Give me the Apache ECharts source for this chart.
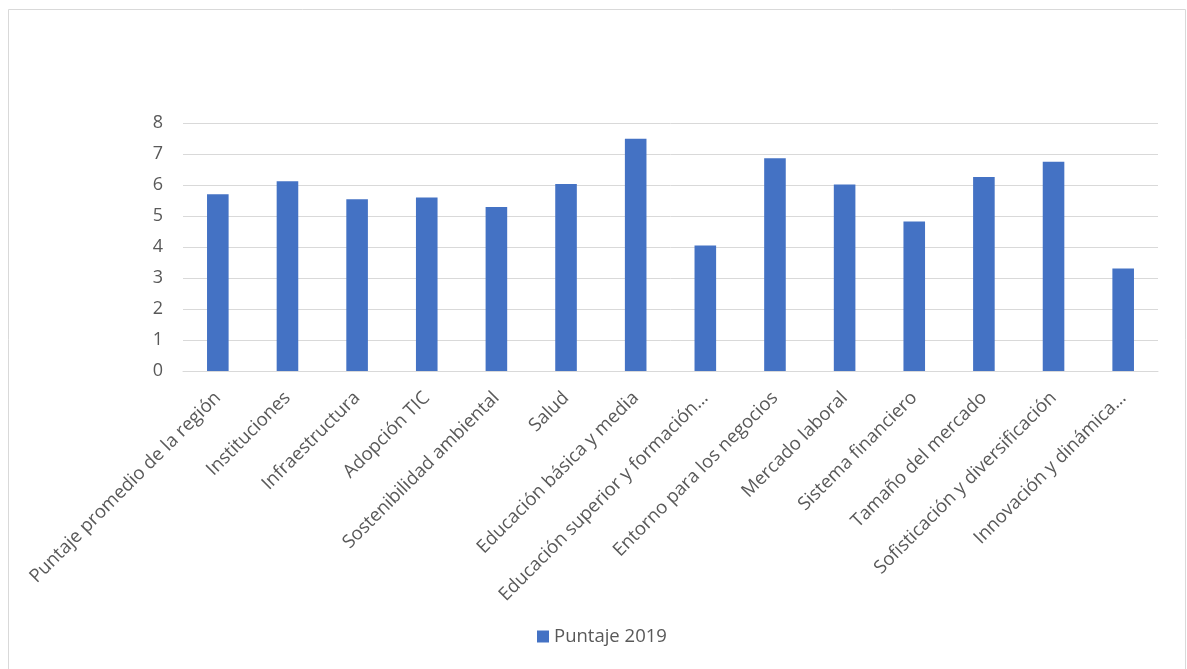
<!DOCTYPE html>
<html>
<head>
<meta charset="utf-8">
<script src="https://cdn.jsdelivr.net/npm/echarts@6/dist/echarts.min.js"></script>
<style>
html,body{margin:0;padding:0;background:#fff;}
#chart{width:1187px;height:669px;}
</style>
</head>
<body>
<div id="chart"></div>
<script>
const categories = [
  "Puntaje promedio de la región",
  "Instituciones",
  "Infraestructura",
  "Adopción TIC",
  "Sostenibilidad ambiental",
  "Salud",
  "Educación básica y media",
  "Educación superior y formación…",
  "Entorno para los negocios",
  "Mercado laboral",
  "Sistema financiero",
  "Tamaño del mercado",
  "Sofisticación y diversificación",
  "Innovación y dinámica…"
];
const seriesName = "Puntaje 2019";
const values = [5.70, 6.12, 5.54, 5.60, 5.29, 6.03, 7.49, 4.05, 6.86, 6.02, 4.82, 6.26, 6.75, 3.31];
const yTicks = {min: 0, max: 8, interval: 1};

const font = "'Open Sans', 'Noto Sans', sans-serif";
const chart = echarts.init(document.getElementById('chart'), null, {renderer: 'canvas'});
chart.setOption({
  animation: false,
  backgroundColor: '#ffffff',
  textStyle: {fontFamily: font},
  graphic: [{
    type: 'rect',
    shape: {x: 8.5, y: 9.5, width: 1177, height: 700},
    style: {fill: 'none', stroke: '#d9d9d9', lineWidth: 1},
    silent: true
  }],
  grid: {left: 183, right: 29, top: 123, bottom: 298, containLabel: false},
  legend: {
    bottom: 18,
    left: 532,
    itemWidth: 12,
    itemHeight: 12,
    itemGap: 6,
    icon: 'rect',
    textStyle: {color: '#595959', fontSize: 18.5, fontFamily: font},
    data: [seriesName]
  },
  xAxis: {
    type: 'category',
    data: categories,
    axisLine: {lineStyle: {color: '#d9d9d9', width: 1}},
    axisTick: {show: false},
    axisLabel: {
      rotate: 45,
      interval: 0,
      margin: 24,
      color: '#595959',
      fontSize: 18.5,
      fontFamily: font
    }
  },
  yAxis: {
    type: 'value',
    min: yTicks.min,
    max: yTicks.max,
    interval: yTicks.interval,
    axisLine: {show: false},
    axisTick: {show: false},
    splitLine: {lineStyle: {color: '#d9d9d9', width: 1}},
    axisLabel: {color: '#595959', fontSize: 18, margin: 20, fontFamily: font}
  },
  series: [{
    name: seriesName,
    type: 'bar',
    data: values,
    barWidth: '31%',
    itemStyle: {color: '#4472c4'}
  }]
});
</script>
</body>
</html>
